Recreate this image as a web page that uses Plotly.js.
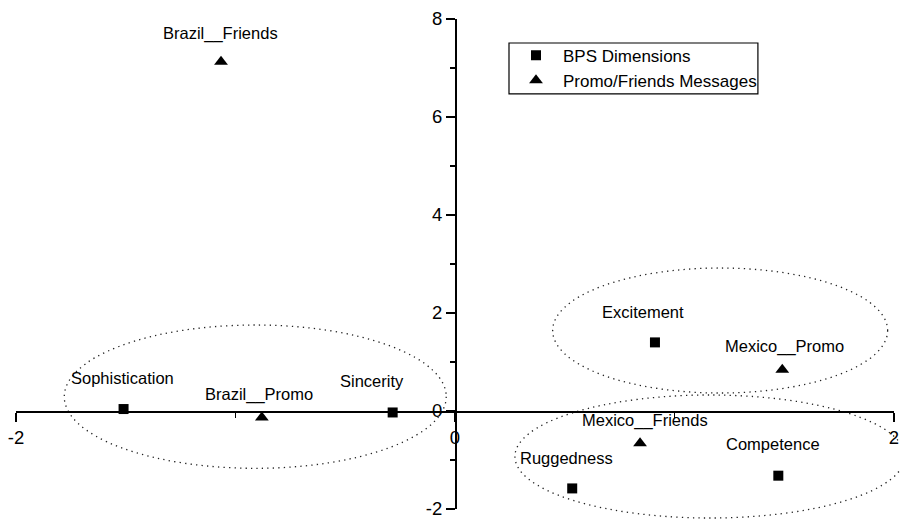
<!DOCTYPE html>
<html>
<head>
<meta charset="utf-8">
<script src="https://cdn.plot.ly/plotly-3.0.1.min.js"></script>
<style>html,body{margin:0;padding:0;background:#fff;}#chart{width:900px;height:520px;}</style>
</head>
<body>
<div id="chart"></div>
<script>
// ---- data ----
const bpsNames = ['Sophistication', 'Sincerity', 'Excitement', 'Ruggedness', 'Competence'];
const bpsX = [-1.51, -0.284, 0.911, 0.534, 1.473];
const bpsY = [0.04, -0.03, 1.40, -1.58, -1.32];

const msgNames = ['Brazil__Friends', 'Brazil__Promo', 'Mexico__Promo', 'Mexico__Friends'];
const msgX = [-1.066, -0.88, 1.491, 0.843];
const msgY = [7.13, -0.133, 0.84, -0.657];

const seriesNames = ['BPS Dimensions', 'Promo/Friends Messages'];
const xTicks = [-2, 0, 2];
const yTicks = [-2, 0, 2, 4, 6, 8];

// ---- style / layout helpers ----
const xRange = [-2, 2], yRange = [-2, 8];
const bpsShift = [[-1, 31], [-21, 31.3], [-12, 30.6], [-6, 30.8], [-5.8, 31.7]];
const msgShift = [[-1, 28], [-3, 23.5], [2, 23.1], [5, 22.7]];
// cluster ellipses in data units [x0, x1, y0, y1]
const clusters = [[-1.78, -0.04, -1.17, 1.755], [0.445, 1.971, 0.367, 2.918], [0.273, 2.049, -2.184, 0.327]];
const px = v => (v - xRange[0]) / (xRange[1] - xRange[0]);
const py = v => (v - yRange[0]) / (yRange[1] - yRange[0]);

const font = 'Arial, "Liberation Sans", sans-serif';

const traces = [
  {x: bpsX, y: bpsY, name: seriesNames[0], type: 'scatter', mode: 'markers',
   marker: {symbol: 'square', size: 10, color: '#000'}, hoverinfo: 'skip'},
  {x: msgX, y: msgY, name: seriesNames[1], type: 'scatter', mode: 'markers',
   marker: {symbol: 'triangle-up', size: 12, color: '#000'}, hoverinfo: 'skip'}
];

const annotations = [];
bpsNames.forEach((n, i) => annotations.push({x: bpsX[i], y: bpsY[i], xref: 'x', yref: 'y', text: n, showarrow: false,
  xanchor: 'center', yanchor: 'middle', xshift: bpsShift[i][0], yshift: bpsShift[i][1],
  font: {family: font, size: 16.5, color: '#000'}}));
msgNames.forEach((n, i) => annotations.push({x: msgX[i], y: msgY[i], xref: 'x', yref: 'y', text: n, showarrow: false,
  xanchor: 'center', yanchor: 'middle', xshift: msgShift[i][0], yshift: msgShift[i][1],
  font: {family: font, size: 16.5, color: '#000'}}));

const shapes = clusters.map(c => ({type: 'circle', xref: 'paper', yref: 'paper',
  x0: px(c[0]), x1: px(c[1]), y0: py(c[2]), y1: py(c[3]), layer: 'below',
  line: {color: '#222', width: 1.3, dash: '1.3px,4.2px'}}));
// legend frame
shapes.push({type: 'rect', xref: 'paper', yref: 'paper', x0: 0.5615, x1: 0.845, y0: 0.847, y1: 0.951,
  layer: 'below', fillcolor: '#fff', line: {color: '#000', width: 1.2}});

const layout = {
  width: 900, height: 520,
  margin: {l: 16, r: 6, t: 19, b: 11, pad: 0},
  paper_bgcolor: '#fff', plot_bgcolor: 'rgba(0,0,0,0)',
  font: {family: font, size: 17, color: '#000'},
  showlegend: true,
  legend: {x: 0.5615, y: 0.962, xanchor: 'left', yanchor: 'top', bgcolor: 'rgba(0,0,0,0)',
    borderwidth: 0, itemwidth: 44, font: {family: font, size: 17, color: '#000'}},
  xaxis: {range: xRange, anchor: 'free', position: 0.2, showgrid: false, zeroline: false,
    showline: true, linecolor: '#000', linewidth: 1.5, ticks: 'outside', tickvals: xTicks,
    ticktext: xTicks.map(String), ticklen: 9, tickwidth: 1.5, tickcolor: '#000',
    minor: {tickvals: [-1, 1], ticks: 'outside', ticklen: 5, tickwidth: 1.5, tickcolor: '#000'},
    tickfont: {family: font, size: 18.5, color: '#000'}, fixedrange: true},
  yaxis: {range: yRange, anchor: 'free', position: 0.5, showgrid: false, zeroline: false,
    showline: true, linecolor: '#000', linewidth: 1.5, ticks: 'outside', tickvals: yTicks,
    ticktext: yTicks.map(String), ticklen: 9, tickwidth: 1.5, tickcolor: '#000',
    minor: {tickvals: [-1, 1, 3, 5, 7], ticks: 'outside', ticklen: 5, tickwidth: 1.5, tickcolor: '#000'},
    tickfont: {family: font, size: 18.5, color: '#000'}, fixedrange: true},
  annotations: annotations,
  shapes: shapes
};

Plotly.newPlot('chart', traces, layout, {staticPlot: true, displayModeBar: false});
</script>
</body>
</html>
